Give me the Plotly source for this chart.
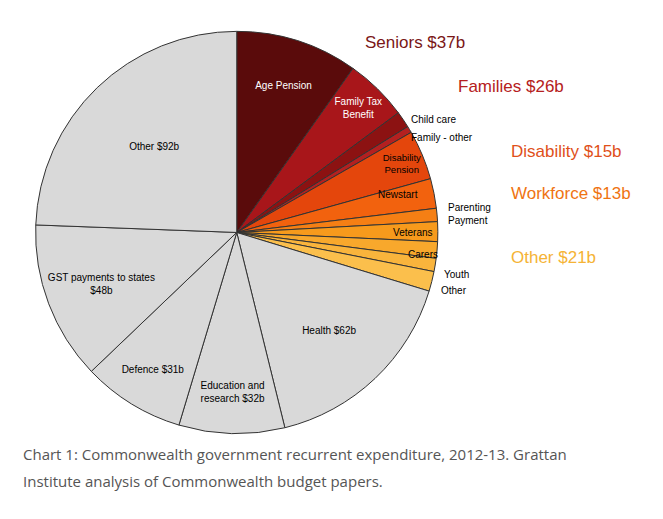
import plotly.graph_objects as go

labels = ["Age Pension", "Family Tax<br>Benefit", "Child care", "Family - other",
          "Disability<br>Pension", "Newstart", "Parenting<br>Payment", "Veterans",
          "Carers", "Youth", "Other", "Health $62b", "Education and<br>research $32b",
          "Defence $31b", "GST payments to states<br>$48b", "Other $92b"]
values = [37, 19, 5, 2, 15, 9, 4, 6, 5, 4, 6, 62, 32, 31, 48, 92]
colors = ["#5a0b0b", "#a8161a", "#8c1212", "#b42020", "#e4460c", "#f2620e", "#f57f14",
          "#f79a1c", "#f8a82c", "#f9b43c", "#fbbf4c",
          "#d9d9d9", "#d9d9d9", "#d9d9d9", "#d9d9d9", "#d9d9d9"]
inside = ["Age Pension", "Family Tax<br>Benefit", "", "", "Disability<br>Pension", "", "",
          "Veterans", "", "", "", "Health $62b", "Education and<br>research $32b",
          "Defence $31b", "GST payments to states<br>$48b", "Other $92b"]
font_colors = ["white", "white", "white", "white", "black", "black", "black", "black", "black",
               "black", "black", "black", "black", "black", "black", "black"]

groups = ["Seniors $37b", "Families $26b", "Disability $15b", "Workforce $13b", "Other $21b"]
group_colors = ["#7a1616", "#b52020", "#e0501a", "#ef7412", "#f5b335"]
group_pos = [(0.535, 0.955), (0.675, 0.87), (0.755, 0.745), (0.755, 0.643), (0.755, 0.52)]

fig = go.Figure(go.Pie(
    labels=labels, values=values, text=inside, textinfo="text",
    sort=False, direction="clockwise", rotation=0,
    marker=dict(colors=colors, line=dict(color="#333", width=1)),
    textposition="inside", insidetextorientation="horizontal",
    insidetextfont=dict(color=font_colors, size=10, family="Arial"),
    domain=dict(x=[0.04, 0.65], y=[0.18, 0.955]),
    hoverinfo="label+value",
))

small = [("Child care", 0.605, 0.8), ("Family - other", 0.605, 0.765),
         ("Newstart", 0.555, 0.64), ("Parenting<br>Payment", 0.66, 0.603),
         ("Carers", 0.6, 0.525), ("Youth", 0.655, 0.487), ("Other", 0.65, 0.455)]
for t, x, y in small:
    fig.add_annotation(text=t, x=x, y=y, xref="paper", yref="paper", xanchor="left",
                       showarrow=False, font=dict(size=10, family="Arial", color="black"), align="left")
for g, c, (x, y) in zip(groups, group_colors, group_pos):
    fig.add_annotation(text=g, x=x, y=y, xref="paper", yref="paper", xanchor="left",
                       showarrow=False, font=dict(size=17, family="Arial", color=c))
caption = ["Chart 1: Commonwealth government recurrent expenditure, 2012-13. Grattan",
           "Institute analysis of Commonwealth budget papers."]
for i, line in enumerate(caption):
    fig.add_annotation(text=line, x=0.02, y=0.118 - i * 0.052, xref="paper", yref="paper",
                       xanchor="left", showarrow=False,
                       font=dict(size=15, family="Open Sans", color="#555"))

fig.update_layout(width=663, height=519, margin=dict(l=0, r=0, t=0, b=0),
                  showlegend=False, paper_bgcolor="white")
fig.write_html("out.html")
